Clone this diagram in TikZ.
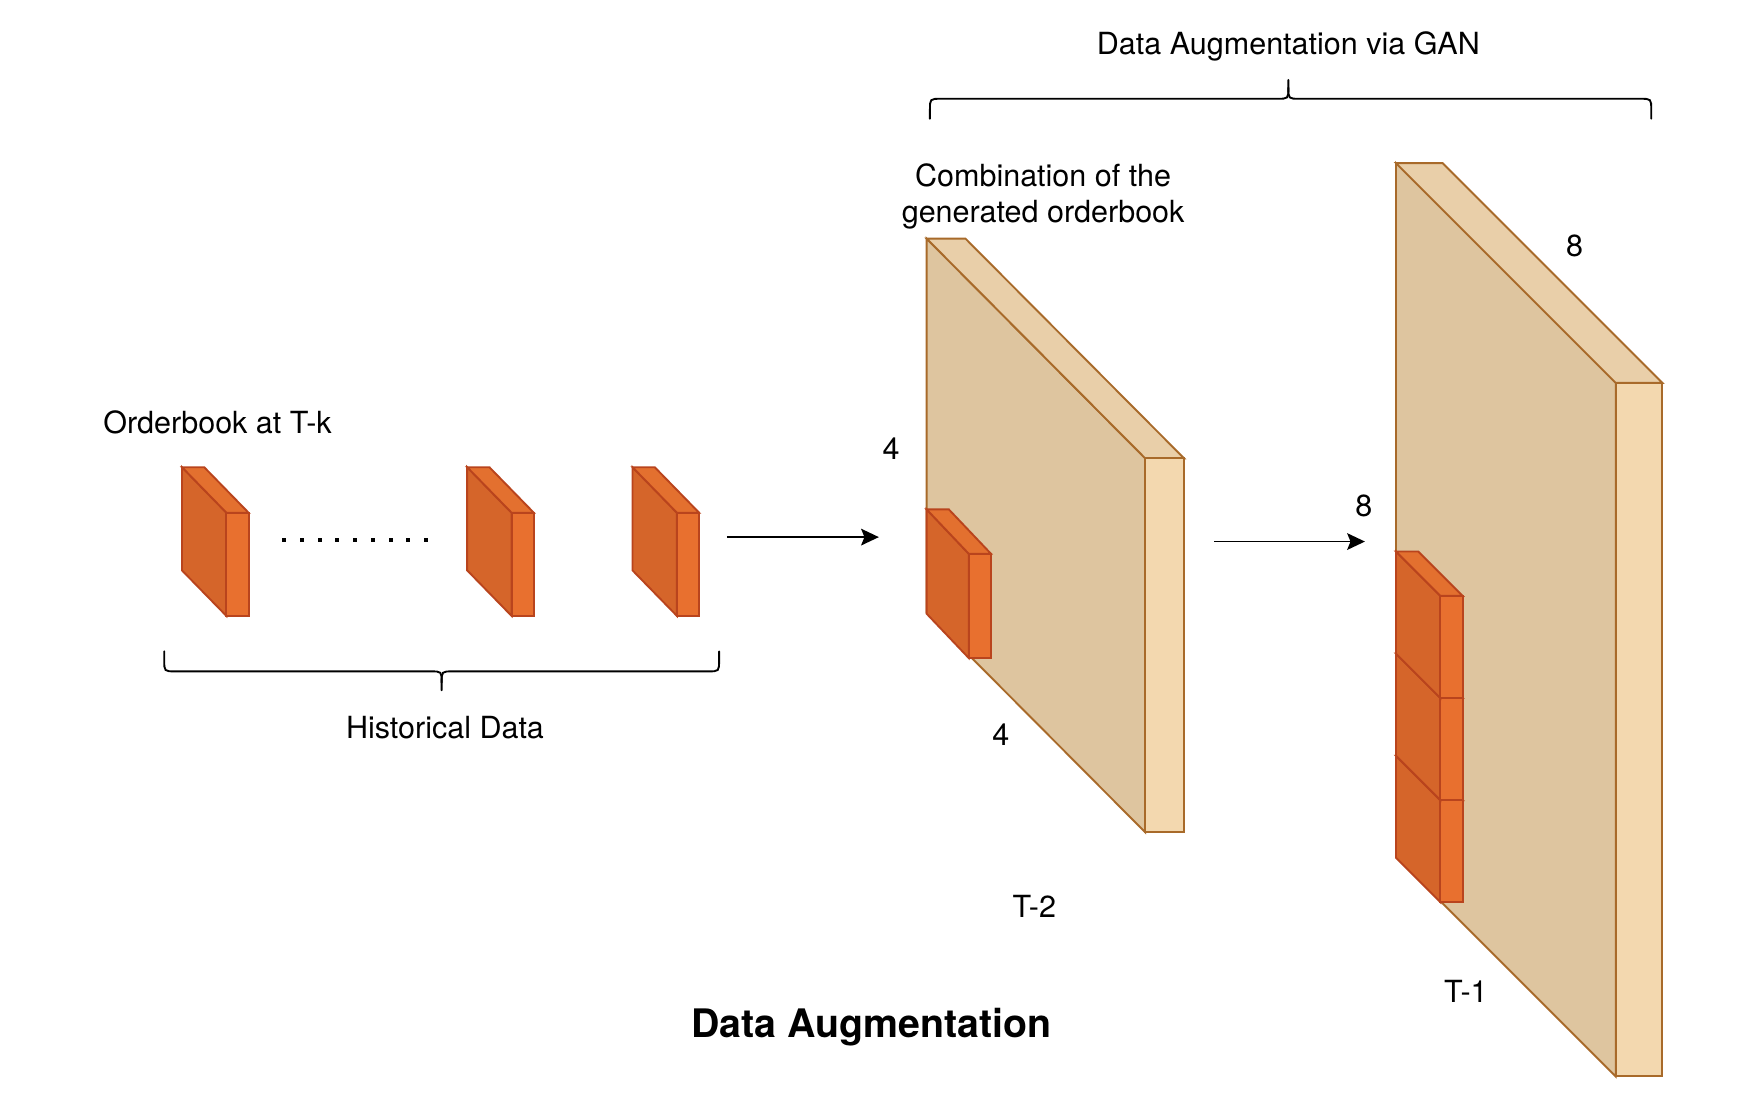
\documentclass[tikz,border=0pt]{standalone}
\usepackage{fontspec}
\setmainfont{TeX Gyre Heros}
\usetikzlibrary{arrows.meta}
\definecolor{cubeside}{HTML}{D5652A}
\definecolor{cubefront}{HTML}{E8702F}
\definecolor{cubetop}{HTML}{E3702F}
\definecolor{cubeline}{HTML}{B9441D}
\definecolor{slabside}{HTML}{DEC59F}
\definecolor{slabtop}{HTML}{E9CFA9}
\definecolor{slabfront}{HTML}{F3D8AF}
\definecolor{slabline}{HTML}{A86A2A}
% #1 x, #2 y (back top-left), #3 w, #4 dx, #5 dy, #6 h, #7 prefix (cube/slab)
\newcommand{\drawbox}[7]{%
  \begin{scope}[shift={(#1,#2)}, draw=#7line, line width=0.85pt, line join=miter]
    \filldraw[fill=#7side] (0,0) -- (#4,#5) -- (#4,#5+#6) -- (0,#6) -- cycle;
    \filldraw[fill=#7top] (0,0) -- (#3,0) -- (#3+#4,#5) -- (#4,#5) -- cycle;
    \filldraw[fill=#7front] (#4,#5) rectangle (#4+#3,#5+#6);
  \end{scope}}
\tikzset{
  lbl/.style={font=\fontsize{13.75pt}{16.5pt}\selectfont, inner sep=0pt, align=center},
  brace/.style={draw=black, line width=0.85pt, line cap=round},
  flow/.style={draw=black, line width=0.85pt, -{Stealth[length=8pt,width=7.5pt,inset=1.5pt]}},
}
\begin{document}
\begin{tikzpicture}[x=0.5pt, y=-0.5pt]
\useasboundingbox (0,0) rectangle (1568,1009);
\fill[white] (0,0) rectangle (1568,1009);

% historical cubes
\drawbox{164}{421}{20}{40}{41}{93}{cube}
\drawbox{421}{421}{20}{40}{41}{93}{cube}
\drawbox{570}{421}{20}{40}{41}{93}{cube}
\foreach \i in {0,...,8} {
  \fill[black] (256+\i*16-1.8,487-1.8) rectangle ++(3.6,3.6);
}

% middle slab
\drawbox{835}{215}{35}{197}{198}{337}{slab}
\drawbox{835}{459}{20}{38}{40}{94}{cube}

% right slab
\drawbox{1258}{147}{42}{198}{198}{625}{slab}
\drawbox{1258}{681}{20}{40}{40}{92}{cube}
\drawbox{1258}{589}{20}{40}{40}{92}{cube}
\drawbox{1258}{497}{20}{40}{40}{92}{cube}

% braces
\draw[brace] (838,107) -- (838,99) .. controls (838,89) .. (848,89) -- (1151,89)
  .. controls (1161,89) .. (1161,79) -- (1161,72);
\draw[brace] (1161,79) .. controls (1161,89) .. (1171,89) -- (1478,89)
  .. controls (1488,89) .. (1488,99) -- (1488,107);
\draw[brace] (148,587) -- (148,595) .. controls (148,605) .. (158,605) -- (388,605)
  .. controls (398,605) .. (398,615) -- (398,622);
\draw[brace] (398,615) .. controls (398,605) .. (408,605) -- (638,605)
  .. controls (648,605) .. (648,595) -- (648,587);

% arrows
\coordinate (a1s) at (655,484);
\coordinate (a1e) at (792,484);
\coordinate (a2s) at (1094,488);
\coordinate (a2e) at (1230,488);
\draw[flow] (a1s) -- (a1e);
\draw[flow] (a2s) -- (a2e);

% labels
\node[lbl] (tgan) at (1161,42) {Data Augmentation via GAN};
\node[lbl] (comb) at (940,177) {Combination of the\\generated orderbook};
\node[lbl] (obk) at (196,381) {Orderbook at T-k};
\node[lbl] (hist) at (401,656) {Historical Data};
\node[lbl] (f1) at (803,404) {4};
\node[lbl] (f2) at (902,662) {4};
\node[lbl] (t2) at (932,817) {T-2};
\node[lbl] (e1) at (1229,456) {8};
\node[lbl] (e2) at (1419,222) {8};
\node[lbl] (t1) at (1321,893) {T-1};
\node[lbl, font=\bfseries\fontsize{17.7pt}{20pt}\selectfont] (title) at (785,926) {Data Augmentation};
\end{tikzpicture}
\end{document}
